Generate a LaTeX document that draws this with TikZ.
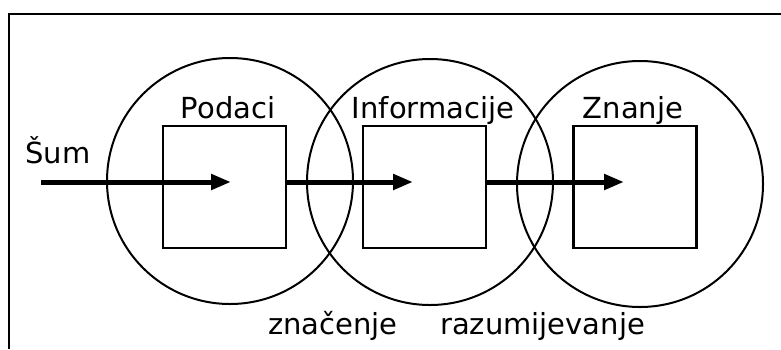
\documentclass[tikz,border=0pt]{standalone}
\usepackage{fontspec}
\setmainfont{DejaVu Sans}
\usetikzlibrary{arrows.meta}
\begin{document}
\begin{tikzpicture}[x=1pt,y=-1pt,
  ring/.style={circle,draw,line width=2pt,minimum size=246pt,inner sep=0pt},
  box/.style={rectangle,draw,line width=2.5pt,minimum width=123pt,minimum height=122pt,inner sep=0pt},
  lbl/.style={font=\fontsize{29}{33}\selectfont,inner sep=0pt},
  flow/.style={line width=5pt,-{Triangle[length=20pt,width=15pt]}}]
\useasboundingbox (0,0) rectangle (781,349);
\draw[line width=2.5pt] (9,349) -- (9,14) -- (781,14);
\node[ring] (c1) at (230,181) {};
\node[ring] (c2) at (430,182) {};
\node[ring] (c3) at (640,184) {};
\node[box] (s1) at (224.5,187) {};
\node[box] (s2) at (424.5,187) {};
\node[box] (s3) at (635,187) {};
\node[lbl,anchor=base] (t1) at (228,118) {Podaci};
\node[lbl,anchor=base] (t2) at (433,118) {Informacije};
\node[lbl,anchor=base] (t3) at (633,118) {Znanje};
\node[lbl,anchor=base west] (sum) at (25,163) {Šum};
\node[lbl,anchor=base west] (zn) at (268,334) {značenje};
\node[lbl,anchor=base west] (rz) at (440,334) {razumijevanje};
\coordinate (a0) at (41,182);
\coordinate (a1) at (231,182);
\coordinate (a2) at (413,182);
\coordinate (a3) at (624,182);
\draw[flow] (a0) -- (a1);
\draw[flow] (s1.east |- a2) -- (a2);
\draw[flow] (s2.east |- a3) -- (a3);
\end{tikzpicture}
\end{document}
